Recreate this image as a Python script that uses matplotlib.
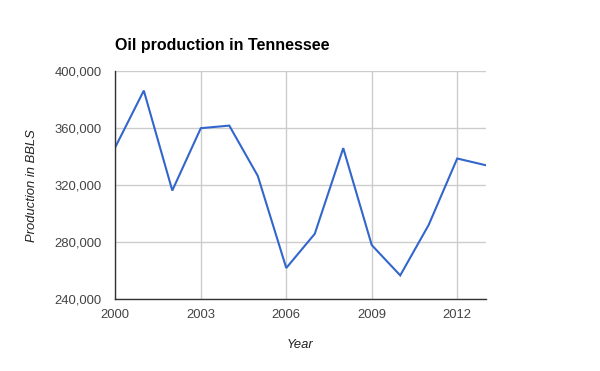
import matplotlib
matplotlib.use("Agg")
import matplotlib.pyplot as plt
from matplotlib.ticker import FuncFormatter

years = [2000, 2001, 2002, 2003, 2004, 2005, 2006,
         2007, 2008, 2009, 2010, 2011, 2012, 2013]
production = [346700, 386400, 316200, 360000, 361800, 326500, 261800,
              285800, 346000, 277900, 256600, 292100, 338700, 334000]
x_ticks = [2000, 2003, 2006, 2009, 2012]
y_ticks = [240000, 280000, 320000, 360000, 400000]

plt.rcParams["font.family"] = ["Liberation Sans", "DejaVu Sans"]

fig = plt.figure(figsize=(6, 3.71), dpi=100)
ax = fig.add_axes([0.1922, 0.194, 0.6173, 0.614])

ax.plot(years, production, color="#3366CC", linewidth=1.5, solid_joinstyle="miter")

ax.set_xlim(2000, 2013)
ax.set_ylim(240000, 400000)
ax.set_xticks(x_ticks)
ax.set_yticks(y_ticks)
ax.yaxis.set_major_formatter(FuncFormatter(lambda v, p: f"{int(v):,}"))

ax.grid(True, color="#CCCCCC", linewidth=1)
ax.set_axisbelow(True)
ax.tick_params(length=0, labelsize=9.4, colors="#444444")
ax.tick_params(axis="x", pad=7)
ax.tick_params(axis="y", pad=9.6)

for side in ("top", "right"):
    ax.spines[side].set_visible(False)
for side in ("left", "bottom"):
    ax.spines[side].set_color("#333333")
    ax.spines[side].set_linewidth(1)

ax.set_xlabel("Year", fontsize=9.4, style="italic", color="#222222", labelpad=13)
ax.set_ylabel("Production in BBLS", fontsize=9.4, style="italic", color="#222222", labelpad=12.3)

fig.text(115 / 600, 1 - 50 / 371, "Oil production in Tennessee",
         fontsize=11.5, fontweight="bold", color="#000000", ha="left", va="baseline")

fig.savefig("out.png", dpi=100, facecolor="white")
